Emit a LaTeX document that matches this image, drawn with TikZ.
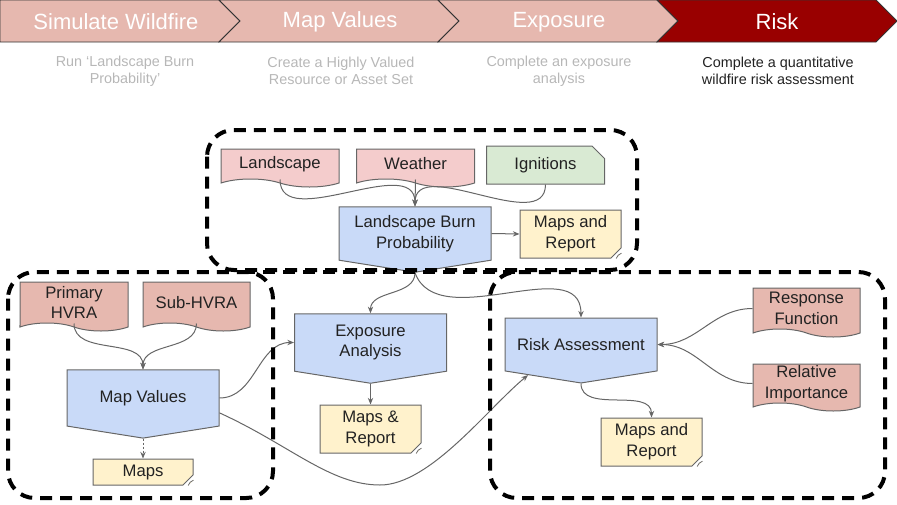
\documentclass[tikz,border=0pt]{standalone}
\usepackage{fontspec}
\setmainfont{Liberation Sans}
\usetikzlibrary{shapes.symbols,shapes.misc,arrows.meta}

\definecolor{chevlight}{HTML}{E6B8AF}
\definecolor{chevdark}{HTML}{990000}
\definecolor{chevline}{HTML}{333333}
\definecolor{subgray}{HTML}{B7B7B7}
\definecolor{linegray}{HTML}{666666}
\definecolor{textdark}{HTML}{222222}
\definecolor{pinklight}{HTML}{F4CCCC}
\definecolor{pinkdark}{HTML}{E6B8AF}
\definecolor{greenlight}{HTML}{D9EAD3}
\definecolor{bluelight}{HTML}{C9DAF8}
\definecolor{yellowlight}{HTML}{FFF2CC}

\tikzset{
  chev/.style={draw=chevline, line width=0.6pt},
  chevtext/.style={text=white, font=\fontsize{16.5}{18}\selectfont},
  subtext/.style={text=subgray, align=center, font=\fontsize{10.8}{12.75}\selectfont},
  group/.style={draw=black, line width=3pt, dash pattern=on 9pt off 6pt, rounded corners=20pt},
  boxtext/.style={text=textdark, align=center, inner sep=0pt, font=\fontsize{12.5}{15.5}\selectfont},
  docbox/.style={boxtext, tape, tape bend top=none, tape bend bottom=out and in,
    tape bend height=6pt, draw=linegray, line width=0.75pt, minimum width=88.5pt, minimum height=28.5pt},
  procbox/.style={boxtext, signal, signal to=south, signal pointer angle=162,
    draw=linegray, line width=0.75pt, fill=bluelight, minimum width=114pt, minimum height=47.25pt},
  notebox/.style={boxtext, chamfered rectangle, chamfered rectangle corners=south east,
    chamfered rectangle xsep=4pt, draw=linegray, line width=0.75pt, fill=yellowlight,
    minimum width=75.75pt, minimum height=36pt},
  conn/.style={draw=linegray, line width=0.75pt, -{Stealth[length=5pt,width=4pt]}},
}

\begin{document}
\begin{tikzpicture}[x=0.75pt,y=0.75pt]
  \useasboundingbox (0,0) rectangle (897,-504);

  % Header chevrons
  \draw[chev, fill=chevlight] (0,0) -- (219,0) -- (240,-21) -- (219,-42) -- (0,-42) -- cycle;
  \draw[chev, fill=chevlight] (219,0) -- (438,0) -- (459,-21) -- (438,-42) -- (219,-42) -- (240,-21) -- cycle;
  \draw[chev, fill=chevlight] (438,0) -- (657,0) -- (678,-21) -- (657,-42) -- (438,-42) -- (459,-21) -- cycle;
  \draw[chev, fill=chevdark] (657,0) -- (876,0) -- (897,-21) -- (876,-42) -- (657,-42) -- (678,-21) -- cycle;
  \node[chevtext] (simhead) at (116,-22) {Simulate Wildfire};
  \node[chevtext] (maphead) at (340,-22) {Map Values};
  \node[chevtext] (exphead) at (559,-22) {Exposure};
  \node[chevtext] (riskhead) at (777,-22) {Risk};

  % Step descriptions
  \node[subtext] (simsub) at (125,-71) {Run ‘Landscape Burn\\Probability’};
  \node[subtext] (mapsub) at (341,-71) {Create a Highly Valued\\Resource or Asset Set};
  \node[subtext] (expsub) at (559,-71) {Complete an exposure\\analysis};
  \node[subtext, text=textdark] (risksub) at (778,-71) {Complete a quantitative\\wildfire risk assessment};

  % Simulate wildfire
  \node[docbox, fill=pinklight] (land) at (280,-164) {Landscape};
  \node[docbox, fill=pinklight] (weather) at (415.5,-164) {Weather};
  \node[boxtext, chamfered rectangle, chamfered rectangle corners=north east, chamfered rectangle xsep=6pt,
    draw=linegray, line width=0.75pt, fill=greenlight, minimum width=88.5pt, minimum height=28.5pt] (ign) at (545.5,-165) {Ignitions};
  \node[procbox] (lbp) at (415,-233.5) {Landscape Burn\\Probability};
  \node[notebox] (repA) at (570.5,-234) {Maps and\\Report};

  % Map values
  \node[docbox, fill=pinkdark, minimum width=81pt, minimum height=36.75pt] (prim) at (74,-302.5) {Primary\\HVRA};
  \node[docbox, fill=pinkdark, minimum width=80.25pt, minimum height=36.75pt] (sub) at (196.5,-302.5) {Sub-HVRA};
  \node[procbox] (mapv) at (143,-398) {Map Values};
  \node[notebox, minimum width=75pt, minimum height=19.5pt] (maps) at (143,-472) {Maps};

  % Exposure
  \node[procbox] (expo) at (370.5,-342.5) {Exposure\\Analysis};
  \node[notebox] (repB) at (370.5,-429) {Maps \&\\Report};

  % Risk
  \node[procbox] (risk) at (581,-344.5) {Risk Assessment};
  \node[docbox, fill=pinkdark, minimum width=80.25pt, minimum height=36.75pt] (resp) at (806.5,-308.5) {Response\\Function};
  \node[docbox, fill=pinkdark, minimum width=80.25pt, minimum height=35.25pt] (relimp) at (806.5,-383.5) {Relative\\Importance};
  \node[notebox] (repC) at (651.5,-442) {Maps and\\Report};

  % Folded corners of the notes
  \foreach \n in {repA,repB,repC,maps}
    \draw[linegray, line width=0.5pt, fill=yellowlight!75!linegray] ([xshift=-4pt]\n.south -| \n.east)
      -- ([xshift=-2.5pt,yshift=2.5pt]\n.south -| \n.east) -- ([yshift=4pt]\n.south -| \n.east);

  % Connectors
  \draw[conn] (land.south) to[out=-90,in=90] (lbp.north);
  \draw[conn] (weather.south) -- (lbp.north);
  \draw[conn] (ign.south) to[out=-90,in=90] (lbp.north);
  \draw[conn] (lbp.east) -- (repA.west);
  \draw[conn] (lbp.south) to[out=-90,in=90] (expo.north);
  \draw[conn] (lbp.south) to[out=-70,in=90] (risk.north);
  \draw[conn] (prim.south) to[out=-90,in=90] (mapv.north);
  \draw[conn] (sub.south) to[out=-90,in=90] (mapv.north);
  \draw[conn, dash pattern=on 2pt off 1pt] (mapv.south) -- (maps.north);
  \draw[conn] (mapv.east) to[out=0,in=180] (expo.west);
  \draw[conn] (mapv.-11) .. controls (290,-445) and (330,-485) .. (380,-485)
    .. controls (430,-485) and (488,-408) .. (risk.210);
  \draw[conn] (expo.south) -- (repB.north);
  \draw[conn] (resp.west) to[out=180,in=0] (risk.east);
  \draw[conn] (relimp.west) to[out=180,in=0] (risk.east);
  \draw[conn] (risk.south) to[out=-90,in=90] (repC.north);

  % Dashed groups
  \draw[group] (207,-130) rectangle (637,-270);
  \draw[group] (8,-272) rectangle (273,-498);
  \draw[group] (490,-272) rectangle (885,-498);
  \draw[group, rounded corners=0pt] (243,-272) -- (520,-272);
\end{tikzpicture}
\end{document}
